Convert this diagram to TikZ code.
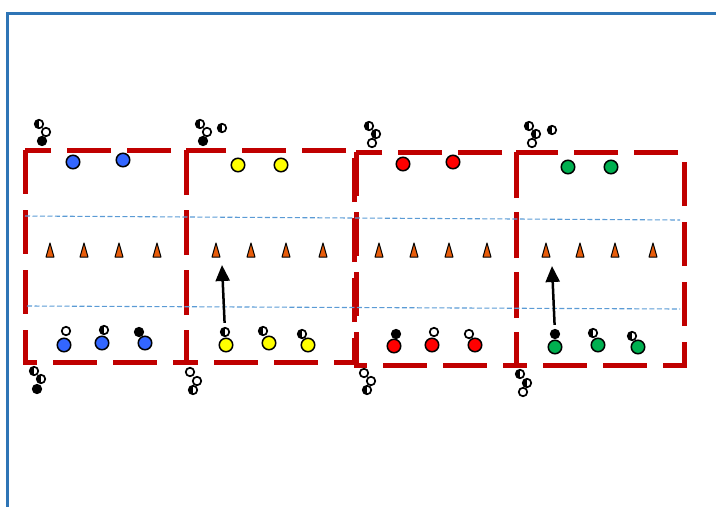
\documentclass[tikz,border=0pt]{standalone}
\usepackage{tikz}
\usetikzlibrary{arrows.meta}
\definecolor{pitchred}{RGB}{192,0,0}
\definecolor{frameblue}{RGB}{46,117,182}
\definecolor{lineblue}{RGB}{91,155,213}
\definecolor{teamblue}{RGB}{51,102,255}
\definecolor{teamyellow}{RGB}{255,255,0}
\definecolor{teamred}{RGB}{255,0,0}
\definecolor{teamgreen}{RGB}{0,176,80}
\definecolor{coneorange}{RGB}{232,92,10}
\tikzset{
  player/.style={circle, draw=black, line width=1.5pt, inner sep=0pt, minimum size=13.5pt},
  ballw/.style={circle, draw=black, fill=white, line width=1.7pt, inner sep=0pt, minimum size=8.5pt},
  ballb/.style={ballw, fill=black},
  ballh/.style={ballw, path picture={\fill[black] (path picture bounding box.south west) rectangle (path picture bounding box.north);}},
  gridbox/.style={pitchred, line width=5pt, dash pattern=on 44pt off 16pt},
  zoneline/.style={lineblue, line width=1.1pt, dash pattern=on 5pt off 2.5pt},
  cone/.style={fill=coneorange, draw=black, line width=1pt, line join=round},
  run/.style={line width=2.5pt, shorten <=4pt, -{Triangle[width=14pt,length=16pt]}}
}
\begin{document}
\begin{tikzpicture}[x=1pt,y=-1pt]
        \useasboundingbox (0,0) rectangle (716,507);
        \draw[frameblue, line width=3pt] (716,13) -- (7,13) -- (7,507);
        % four grids
        \foreach \xa/\ya/\xb/\yb in {25/150/186/362, 186/150/354/362, 356/152/516/365, 516/152/684/365} {
            \draw[gridbox] (\xa,\ya) rectangle (\xb,\yb);
        }
        \draw[zoneline] (25,216) -- (680,220);
        \draw[zoneline] (27,306) -- (680,309);
        % cones
        \foreach \x in {50,84,119,157,216,251,286,323,379,414,449,487,546,580,615,653} {
            \filldraw[cone] (\x,243) -- (\x+4,257) -- (\x-4,257) -- cycle;
        }
        % players
        \foreach \x/\y [count=\i] in {73/162,123/160,64/345,102/343,145/343} {
            \node[player, fill=teamblue] (blue\i) at (\x,\y) {};
        }
        \foreach \x/\y [count=\i] in {238/165,281/165,226/345,269/343,308/345} {
            \node[player, fill=teamyellow] (yellow\i) at (\x,\y) {};
        }
        \foreach \x/\y [count=\i] in {403/164,453/162,394/346,432/345,475/345} {
            \node[player, fill=teamred] (red\i) at (\x,\y) {};
        }
        \foreach \x/\y [count=\i] in {568/167,611/167,555/347,598/345,638/347} {
            \node[player, fill=teamgreen] (green\i) at (\x,\y) {};
        }
        % balls
        \foreach \x/\y/\t [count=\i] in {39/124/ballh,46/132/ballw,42/141/ballb,
            34/371/ballh,41/379/ballh,37/389/ballb,66/331/ballw,104/330/ballh,139/332/ballb,
            200/124/ballh,207/132/ballw,203/141/ballb,222/128/ballh,
            190/372/ballw,197/381/ballw,193/390/ballh,263/331/ballh,302/334/ballh,
            369/126/ballh,376/134/ballh,372/143/ballw,
            364/373/ballw,371/381/ballw,367/390/ballh,434/332/ballw,469/334/ballw,
            529/126/ballh,536/134/ballh,532/143/ballw,552/130/ballh,
            520/374/ballh,527/383/ballh,523/392/ballw,593/333/ballh,632/336/ballh} {
            \node[\t] (ball\i) at (\x,\y) {};
        }
        \node[ballh] (startyellow) at (225,332) {};
        \node[ballb] (startred) at (396,334) {};
        \node[ballb] (startgreen) at (555,334) {};
        % runs
        \coordinate (endyellow) at (222,265);
        \coordinate (endgreen) at (552,266);
        \draw[run] (startyellow) -- (endyellow);
        \draw[run] (startgreen) -- (endgreen);
    \end{tikzpicture}
\end{document}
